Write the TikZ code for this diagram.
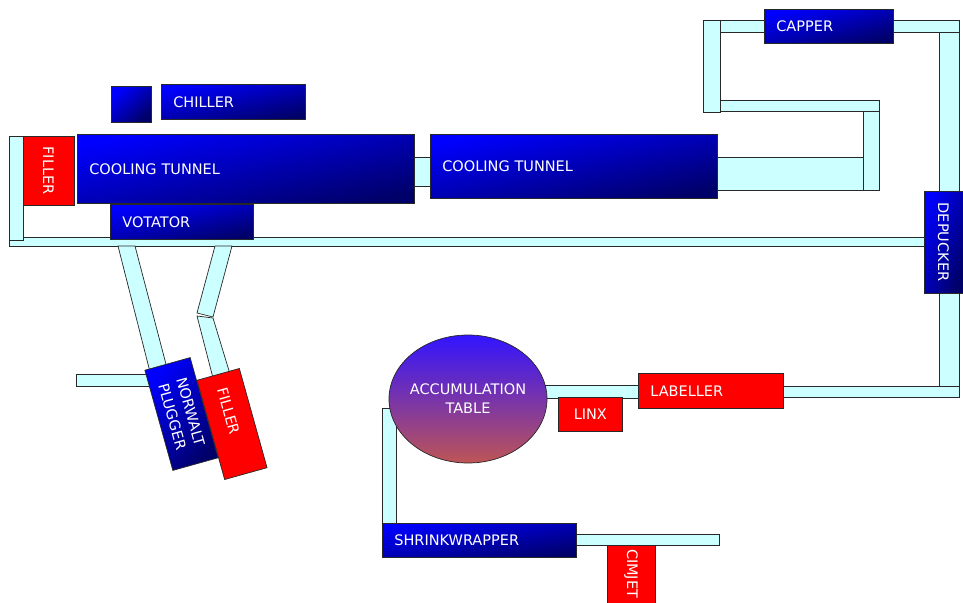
\documentclass[tikz,border=0pt]{standalone}
\usepackage{fontspec}
\setmainfont{DejaVu Sans}
\usetikzlibrary{shapes.geometric}

\definecolor{blueA}{RGB}{0,0,255}
\definecolor{blueB}{RGB}{0,0,105}
\definecolor{redA}{RGB}{255,0,0}
\definecolor{beltC}{RGB}{204,255,255}
\definecolor{edgeC}{RGB}{40,40,40}
\definecolor{tableTop}{RGB}{50,20,255}
\definecolor{tableBot}{RGB}{190,85,85}

\begin{document}
\begin{tikzpicture}[x=1pt, y=-1pt,
    belt/.style={draw=edgeC, fill=beltC, line width=0.7pt},
    unit/.style={draw=edgeC, line width=0.7pt, text=white, inner xsep=12pt, inner ysep=0pt,
                 font=\fontsize{14.5}{19}\selectfont, align=left},
    bluebox/.style={unit, top color=blueA, bottom color=blueB, shading angle=#1},
    bluebox/.default=13,
    redbox/.style={unit, fill=redA}]
  \useasboundingbox (0,0) rectangle (963,602);

  \draw[belt] (9,237) rectangle (925,246);
  \draw[belt] (9,136) rectangle (23,240);
  \draw[belt] (413,157) rectangle (430,186);
  \draw[belt] (717,157) rectangle (863,190);
  \draw[belt] (863,110) rectangle (879,190);
  \draw[belt] (720,100) rectangle (879,111);
  \draw[belt] (703,20) rectangle (720,112);
  \draw[belt] (720,20) rectangle (765,32);
  \draw[belt] (893,20) rectangle (959,32);
  \draw[belt] (939,32) rectangle (959,192);
  \draw[belt] (939,293) rectangle (959,386);
  \draw[belt] (783,386) rectangle (959,397);
  \draw[belt] (545,385) rectangle (638,398);
  \draw[belt] (382,408) rectangle (396,523);
  \draw[belt] (576,534) rectangle (719,545);
  \draw[belt] (76,374) rectangle (150,386);
  \draw[belt] (118,246) -- (135,246) -- (167,368) -- (150,372) -- cycle;
  \draw[belt] (215,246) -- (232,246) -- (213,317) -- (197,313) -- cycle;
  \draw[belt] (197,316) -- (213,318) -- (230,374) -- (213,378) -- cycle;

  \node (chillpad) [bluebox=42, anchor=north west, minimum width=40pt, minimum height=36pt] at (111,86) {};
  \node (chiller) [bluebox, anchor=north west, text width=120pt, minimum height=35pt] at (161,84) {CHILLER};
  \node (tunnelA) [bluebox=12, anchor=north west, text width=313pt, minimum height=69pt] at (77,134) {COOLING TUNNEL};
  \node (fillerA) [redbox, rotate=-90, align=center, inner xsep=0pt, minimum width=69pt, minimum height=51pt] at (48.5,170.5) {FILLER};
  \node (votator) [bluebox, anchor=north west, text width=119pt, minimum height=35pt] at (110,204) {VOTATOR};
  \node (tunnelB) [bluebox=12, anchor=north west, text width=263pt, minimum height=64pt] at (430,134) {COOLING TUNNEL};
  \node (capper) [bluebox=15, anchor=north west, text width=105pt, minimum height=34pt] at (764,9) {CAPPER};
  \node (depucker) [bluebox=69, rotate=-90, align=center, inner xsep=0pt, minimum width=102pt, minimum height=39pt] at (943.5,242) {DEPUCKER};
  \node (plugger) [bluebox=50, rotate=-74.4, align=center, inner xsep=0pt, minimum width=104pt, minimum height=47pt] at (181.5,414) {NORWALT\\PLUGGER};
  \node (fillerB) [redbox, rotate=-74.4, inner xsep=14pt, text width=75pt, minimum height=44pt] at (232,424) {FILLER};
  \node (table) [ellipse, draw=edgeC, line width=0.7pt, top color=tableTop, bottom color=tableBot, text=white, align=center,
                 font=\fontsize{14.5}{19}\selectfont, inner sep=-6pt, minimum width=158pt, minimum height=128pt] at (468,399) {ACCUMULATION\\TABLE};
  \node (labeller) [redbox, anchor=north west, text width=121pt, minimum height=35pt] at (638,373) {LABELLER};
  \node (linx) [redbox, anchor=north west, align=center, inner xsep=0pt, minimum width=64pt, minimum height=34pt] at (558,397) {LINX};
  \node (shrink) [bluebox=10, anchor=north west, text width=170pt, minimum height=34pt] at (382,523) {SHRINKWRAPPER};
  \node (cimjet) [redbox, rotate=-90, inner xsep=4pt, text width=52pt, minimum height=48pt] at (631,575) {CIMJET};
\end{tikzpicture}
\end{document}
